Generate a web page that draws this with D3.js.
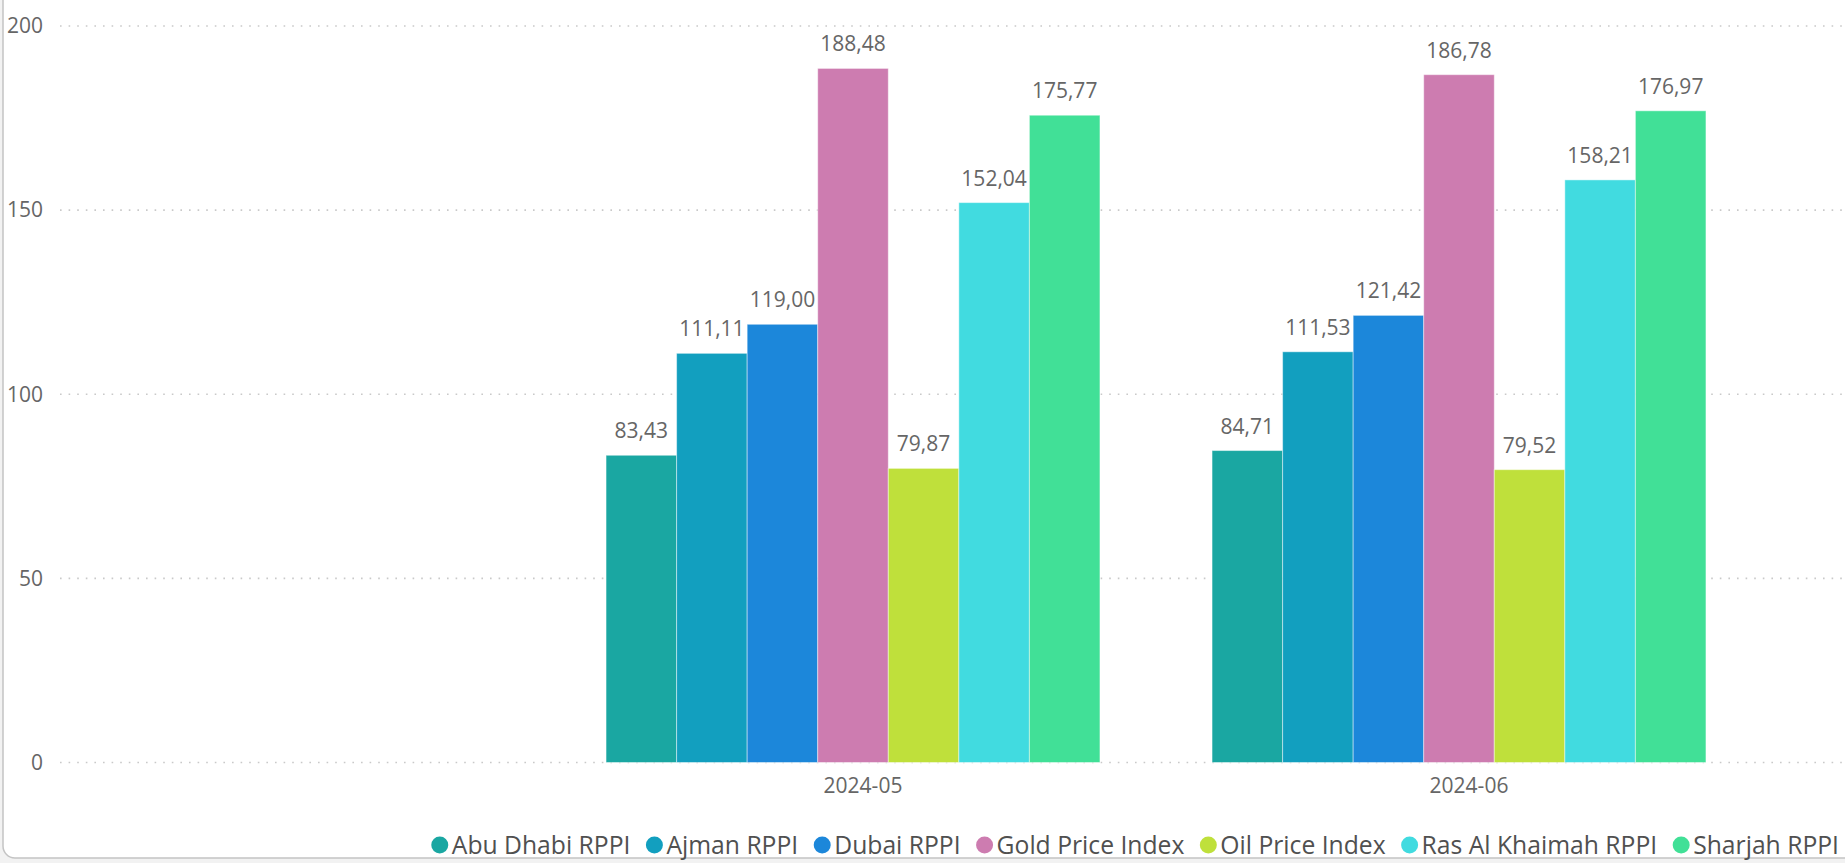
<!DOCTYPE html>
<meta charset="utf-8">

<head>
    <title>RPPI vs price indices</title>
    <script src="https://cdn.jsdelivr.net/npm/d3@7"></script>
    <style>
        body {
            margin: 0;
            background-color: #f2f2f2;
            font-family: "Segoe UI", "Open Sans", sans-serif;
        }

        #chart {
            display: block;
        }

        .grid line {
            stroke: #c9c9c9;
            stroke-width: 1.6;
            stroke-dasharray: 1.6, 7;
        }

        .tick-label {
            fill: #666666;
            font-size: 21px;
        }

        .bar-label {
            fill: #666666;
            font-size: 21px;
        }

        .legend-label {
            fill: #505050;
            font-size: 24.7px;
        }
    </style>
</head>

<body>
    <svg id="chart"></svg>

    <script>
        // data
        const months = ['2024-05', '2024-06']
        const seriesNames = ['Abu Dhabi RPPI', 'Ajman RPPI', 'Dubai RPPI', 'Gold Price Index',
            'Oil Price Index', 'Ras Al Khaimah RPPI', 'Sharjah RPPI']
        const seriesColors = ['#1aa7a2', '#129fbf', '#1c87da', '#cd7cb0', '#bfe03b', '#41dbe0', '#41e097']
        const valuesMay = [83.43, 111.11, 119.00, 188.48, 79.87, 152.04, 175.77]
        const valuesJun = [84.71, 111.53, 121.42, 186.78, 79.52, 158.21, 176.97]
        const yTicks = [0, 50, 100, 150, 200]

        const width = 1845
        const height = 863

        const svg = d3.select('#chart')
            .attr('width', width)
            .attr('height', height)

        // card background, only the left and bottom edges are visible
        svg.append('rect')
            .attr('x', 3)
            .attr('y', -30)
            .attr('width', width + 40)
            .attr('height', 888)
            .attr('rx', 12)
            .attr('fill', 'white')
            .attr('stroke', '#c4c4c4')
            .attr('stroke-width', 1.5)

        // scales
        const y = d3.scaleLinear()
            .domain([0, 200])
            .range([762.5, 26])

        const x = d3.scaleBand()
            .domain(months)
            .range([550, 1762])
            .paddingInner(0.185)
            .paddingOuter(0.0925)

        const x1 = d3.scaleBand()
            .domain(seriesNames)
            .range([0, x.bandwidth()])

        const color = d3.scaleOrdinal()
            .domain(seriesNames)
            .range(seriesColors)

        // gridlines
        const grid = svg.append('g').attr('class', 'grid')
        grid.selectAll('line')
            .data(yTicks)
            .enter()
            .append('line')
            .attr('x1', 60)
            .attr('x2', width)
            .attr('y1', d => y(d))
            .attr('y2', d => y(d))

        // y labels
        svg.append('g')
            .selectAll('text')
            .data(yTicks)
            .enter()
            .append('text')
            .attr('class', 'tick-label')
            .attr('x', 43)
            .attr('y', d => y(d))
            .attr('dy', '0.35em')
            .attr('text-anchor', 'end')
            .text(d => d)

        // bars
        const rows = months.map((m, i) => ({
            month: m,
            values: (i === 0 ? valuesMay : valuesJun).map((v, j) => ({ name: seriesNames[j], value: v }))
        }))

        const groups = svg.append('g')
            .selectAll('g')
            .data(rows)
            .enter()
            .append('g')
            .attr('transform', d => 'translate(' + x(d.month) + ',0)')

        groups.selectAll('rect')
            .data(d => d.values)
            .enter()
            .append('rect')
            .attr('x', d => x1(d.name))
            .attr('y', d => y(d.value))
            .attr('width', x1.bandwidth())
            .attr('height', d => y(0) - y(d.value))
            .attr('fill', d => color(d.name))
            .attr('stroke', 'rgba(255,255,255,0.45)')
            .attr('stroke-width', 1)

        const fmt = d3.formatLocale({ decimal: ',', thousands: '.', grouping: [3], currency: ['', ''] }).format('.2f')

        groups.selectAll('text')
            .data(d => d.values)
            .enter()
            .append('text')
            .attr('class', 'bar-label')
            .attr('x', d => x1(d.name) + x1.bandwidth() / 2)
            .attr('y', d => y(d.value) - 17)
            .attr('text-anchor', 'middle')
            .text(d => fmt(d.value))

        // x labels
        svg.append('g')
            .selectAll('text')
            .data(months)
            .enter()
            .append('text')
            .attr('class', 'tick-label')
            .attr('x', d => x(d) + x.bandwidth() / 2 + 10)
            .attr('y', 793)
            .attr('text-anchor', 'middle')
            .text(d => d)

        // legend, laid out left to right then shifted so it ends near the right edge
        const legend = svg.append('g').attr('id', 'legend')
        const items = legend.selectAll('g')
            .data(seriesNames)
            .enter()
            .append('g')

        items.append('circle')
            .attr('r', 8.5)
            .attr('cx', 0)
            .attr('cy', 0)
            .attr('fill', d => color(d))

        items.append('text')
            .attr('class', 'legend-label')
            .attr('x', 12)
            .attr('dy', '0.35em')
            .text(d => d)

        let pos = 0
        const offsets = []
        items.each(function () {
            const w = d3.select(this).select('text').node().getComputedTextLength()
            offsets.push(pos)
            pos += 12 + w + 24
        })
        const totalWidth = pos - 24 + 8.5
        const startX = 1839 - totalWidth + 8.5
        items.attr('transform', (d, i) => 'translate(' + (startX + offsets[i]) + ',845)')
    </script>
</body>

</html>
